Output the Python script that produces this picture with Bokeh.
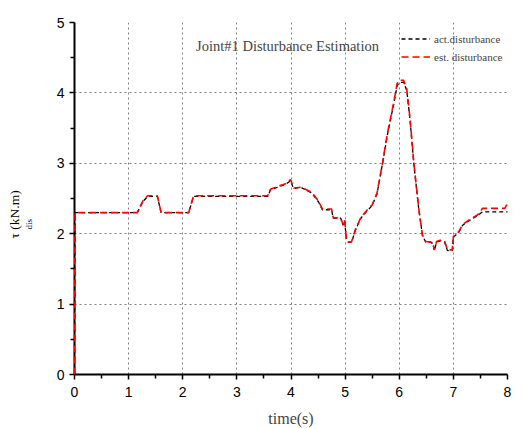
from bokeh.plotting import figure
from bokeh.models import Label, Legend, LegendItem, FixedTicker, Range1d, Title
from bokeh.embed import file_html
from bokeh.resources import INLINE

# ---- data ----
t = [0, 0.01, 1.16, 1.26, 1.35, 1.53, 1.6, 2.11, 2.2, 3.57, 3.62, 3.75, 3.9, 3.99,
     4.05, 4.18, 4.38, 4.51, 4.58, 4.75, 4.78, 4.92, 4.96, 4.99, 5.02, 5.06, 5.12,
     5.19, 5.29, 5.40, 5.5, 5.59, 5.69, 5.78, 5.9, 5.96, 6.0, 6.08, 6.14, 6.2, 6.27,
     6.36, 6.43, 6.49, 6.58, 6.62, 6.65, 6.69, 6.77, 6.84, 6.89, 6.98, 7.0, 7.1,
     7.17, 7.32, 7.45, 7.54, 7.95, 8.0]
act = [0, 2.30, 2.30, 2.45, 2.53, 2.53, 2.30, 2.30, 2.53, 2.53, 2.62, 2.66, 2.70,
       2.75, 2.64, 2.66, 2.58, 2.45, 2.34, 2.34, 2.22, 2.22, 2.12, 2.19, 1.95, 1.88,
       1.88, 2.05, 2.22, 2.32, 2.40, 2.57, 2.99, 3.40, 3.85, 4.10, 4.15, 4.15, 4.03,
       3.61, 2.99, 2.35, 1.97, 1.88, 1.88, 1.86, 1.76, 1.88, 1.90, 1.88, 1.76, 1.76,
       1.95, 2.02, 2.12, 2.20, 2.26, 2.31, 2.31, 2.31]
est = [0, 2.30, 2.30, 2.46, 2.54, 2.54, 2.30, 2.30, 2.54, 2.54, 2.63, 2.67, 2.71,
       2.77, 2.65, 2.66, 2.59, 2.46, 2.35, 2.35, 2.23, 2.22, 2.13, 2.20, 1.96, 1.88,
       1.89, 2.06, 2.23, 2.33, 2.41, 2.58, 3.00, 3.42, 3.87, 4.13, 4.18, 4.18, 4.05,
       3.63, 3.00, 2.36, 1.98, 1.89, 1.88, 1.87, 1.77, 1.89, 1.91, 1.89, 1.77, 1.77,
       1.96, 2.03, 2.13, 2.21, 2.27, 2.36, 2.36, 2.43]
x_ticks = [0, 1, 2, 3, 4, 5, 6, 7, 8]
y_ticks = [0, 1, 2, 3, 4, 5]
title_text = "Joint#1 Disturbance Estimation"
legend_labels = ["act.disturbance", "est. disturbance"]

SERIF = "Liberation Serif"
SANS = "Liberation Sans"

p = figure(width=522, height=429, output_backend="svg", toolbar_location=None,
           x_range=Range1d(0, 8), y_range=Range1d(0, 5),
           min_border_left=74, min_border_right=15, min_border_top=22,
           min_border_bottom=55)
p.outline_line_color = None
p.background_fill_color = "white"
p.border_fill_color = "white"

for ax, ticks in ((p.xaxis[0], x_ticks), (p.yaxis[0], y_ticks)):
    ax.ticker = FixedTicker(ticks=ticks,
                            minor_ticks=[v + 0.5 for v in ticks[:-1]])
    ax.axis_line_width = 2
    ax.axis_line_color = "black"
    ax.major_tick_in = 0
    ax.major_tick_out = 5
    ax.major_tick_line_width = 1.5
    ax.minor_tick_in = 0
    ax.minor_tick_out = 4
    ax.minor_tick_line_width = 1.5
    ax.major_label_text_font = SANS
    ax.major_label_text_font_size = "14px"
    ax.major_label_text_color = "black"

p.xaxis.major_label_standoff = 7
p.xaxis.axis_label = "time(s)"
p.xaxis.axis_label_text_font = SERIF
p.xaxis.axis_label_text_font_size = "16px"
p.xaxis.axis_label_text_font_style = "normal"
p.xaxis.axis_label_standoff = 10

# blank y-axis label used only as a small spacer before the side titles
p.yaxis.axis_label = "\u00a0"
p.yaxis.axis_label_text_font_size = "10px"
p.yaxis.axis_label_standoff = 6

for g in (p.xgrid[0], p.ygrid[0]):
    g.ticker = p.xaxis[0].ticker if g is p.xgrid[0] else p.yaxis[0].ticker
    g.grid_line_color = "#808080"
    g.grid_line_dash = "2 3"
    g.grid_line_width = 1

r_act = p.line(t, act, line_color="black", line_width=1.3, line_dash="4 3",
               level="overlay")
r_est = p.line(t, est, line_color="red", line_width=1.6, line_dash="7 4",
               level="overlay")

legend = Legend(items=[LegendItem(label=legend_labels[0], renderers=[r_act]),
                       LegendItem(label=legend_labels[1], renderers=[r_est])],
                location=(327, 311), background_fill_alpha=0,
                border_line_color=None, padding=0, margin=0, spacing=5,
                glyph_width=29, glyph_height=13, label_height=13,
                label_standoff=4, label_text_font=SERIF,
                label_text_font_size="11px")
p.add_layout(legend)

# chart title drawn inside the frame (screen px from the frame's bottom-left)
p.add_layout(Label(x=213, y=329, x_units="screen", y_units="screen",
                   text=title_text, text_font=SERIF, text_font_size="14.5px",
                   text_align="center", text_baseline="middle"))

# y-axis label: tau with subscript "dis", then (kN.m) -- as side titles
p.add_layout(Title(text="dis", text_font=SERIF, text_font_size="9px",
                   text_font_style="normal", text_color="black", align="left",
                   offset=145, standoff=0), "left")
p.add_layout(Title(text="τ   (kN.m)", text_font=SERIF, text_font_size="13.5px",
                   text_font_style="normal", text_color="black", align="left",
                   offset=136, standoff=0), "left")

open("out.html", "w").write(file_html(p, INLINE))
